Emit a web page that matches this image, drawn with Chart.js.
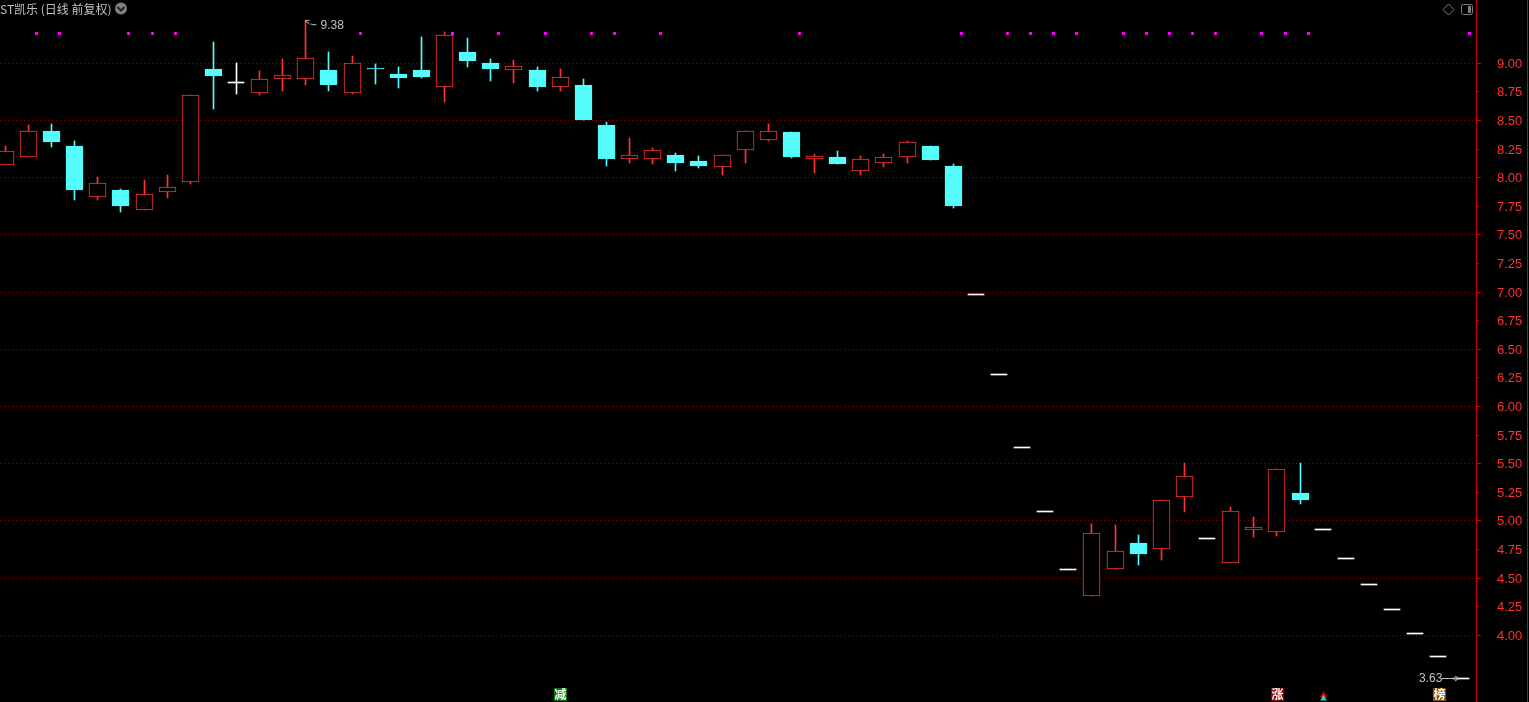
<!DOCTYPE html>
<html>
<head>
<meta charset="utf-8">
<title>ST凯乐 (日线 前复权)</title>
<script src="https://cdn.jsdelivr.net/npm/chart.js@4/dist/chart.umd.min.js"></script>
<style>
    html, body { margin: 0; padding: 0; background: #000; overflow: hidden; }
    canvas { display: block; }
</style>
</head>
<body>
<canvas id="klineChart" width="1529" height="702"></canvas>
<script>
const titleText = 'ST凯乐 (日线 前复权)';

const opens = [8.12, 8.19, 8.41, 8.28, 7.84, 7.89, 7.73, 7.88, 7.97, 8.95, 8.84, 8.75, 8.87, 8.87, 8.94, 8.75,
    8.96, 8.91, 8.94, 8.80, 9.10, 9.00, 8.95, 8.94, 8.80, 8.81, 8.46, 8.17, 8.17, 8.20, 8.15, 8.10,
    8.25, 8.34, 8.40, 8.17, 8.18, 8.07, 8.14, 8.19, 8.28, 8.10, 6.98, 6.28, 5.65, 5.09, 4.58, 4.35,
    4.59, 4.81, 4.76, 5.22, 4.85, 4.64, 4.93, 4.91, 5.24, 4.93, 4.68, 4.45, 4.23, 4.02, 3.82, 3.63];
const highs = [8.28, 8.46, 8.47, 8.32, 8.01, 7.90, 7.98, 8.02, 8.72, 9.19, 9.00, 8.93, 9.04, 9.38, 9.10, 9.06,
    8.99, 8.97, 9.23, 9.27, 9.22, 9.04, 9.03, 8.97, 8.95, 8.86, 8.49, 8.35, 8.26, 8.22, 8.19, 8.20,
    8.41, 8.47, 8.40, 8.21, 8.23, 8.19, 8.21, 8.32, 8.28, 8.12, 6.98, 6.28, 5.65, 5.09, 4.58, 4.97,
    4.96, 4.88, 5.18, 5.51, 4.85, 5.12, 5.03, 5.45, 5.51, 4.93, 4.68, 4.45, 4.23, 4.02, 3.82, 3.63];
const lows = [8.12, 8.19, 8.28, 7.81, 7.81, 7.71, 7.73, 7.83, 7.95, 8.61, 8.74, 8.73, 8.77, 8.82, 8.77, 8.74,
    8.83, 8.79, 8.88, 8.67, 8.98, 8.85, 8.84, 8.77, 8.77, 8.51, 8.11, 8.14, 8.13, 8.07, 8.09, 8.03,
    8.14, 8.33, 8.18, 8.05, 8.13, 8.03, 8.10, 8.14, 8.16, 7.74, 6.98, 6.28, 5.65, 5.09, 4.58, 4.35,
    4.59, 4.62, 4.67, 5.09, 4.85, 4.64, 4.87, 4.88, 5.16, 4.93, 4.68, 4.45, 4.23, 4.02, 3.82, 3.63];
const closes = [8.23, 8.41, 8.32, 7.90, 7.95, 7.76, 7.86, 7.92, 8.72, 8.90, 8.84, 8.86, 8.90, 9.05, 8.82, 9.00,
    8.955, 8.88, 8.89, 9.25, 9.03, 8.96, 8.98, 8.80, 8.88, 8.51, 8.17, 8.20, 8.24, 8.14, 8.11, 8.20,
    8.41, 8.41, 8.19, 8.19, 8.13, 8.16, 8.18, 8.31, 8.16, 7.76, 6.98, 6.28, 5.65, 5.09, 4.58, 4.89,
    4.74, 4.72, 5.18, 5.39, 4.85, 5.09, 4.95, 5.45, 5.19, 4.93, 4.68, 4.45, 4.23, 4.02, 3.82, 3.63];

const priceTicks = [9, 8.75, 8.5, 8.25, 8, 7.75, 7.5, 7.25, 7, 6.75, 6.5, 6.25, 6, 5.75, 5.5, 5.25, 5, 4.75, 4.5, 4.25, 4];

const signalDays = [1, 2, 5, 6, 7, 15, 19, 21, 23, 25, 26, 28, 34, 41, 43, 44, 45, 46, 48, 49, 50, 51, 52, 54, 55, 56, 63];
const signalLevel = 9.26;
const badgeDays = [24, 55, 62];
const badgeLabels = ['减', '涨', '榜'];
const badgeColors = ['#007a00', '#8a0000', '#8a4a00'];
const arrowDay = 57;
const highNoteDay = 13;
const lowNoteDay = 63;

const RED = '#ff3232';
const CYAN = '#54fcfc';
const WHITE = '#ffffff';
const GRAY = '#c0c0c0';
const AXIS_RED = '#c80000';

const days = opens.map((_, i) => i);
const isDoji = i => opens[i] === closes[i];
const candleColor = i => isDoji(i) ? WHITE : (closes[i] > opens[i] ? RED : CYAN);

// line the bars up on whole pixels, a bar fills every row from its top to its bottom value
const snapPlugin = {
    id: 'snap',
    afterDatasetsUpdate(chart) {
        chart.getSortedVisibleDatasetMetas().forEach(meta => {
            meta.data.forEach(el => {
                if (meta.type === 'bar') {
                    const odd = el.width % 2 === 1;
                    el.x = Math.floor(el.x) + (odd ? 0.5 : 0);
                    const top = Math.round(Math.min(el.y, el.base));
                    const bottom = Math.round(Math.max(el.y, el.base));
                    el.y = top;
                    el.base = bottom + 1;
                } else {
                    el.x = Math.floor(el.x) + 0.5;
                    el.y = Math.floor(el.y) + 0.5;
                }
            });
        });
    }
};

const overlayPlugin = {
    id: 'overlay',
    afterDraw(chart) {
        const ctx = chart.ctx;
        const xs = chart.scales.x;
        const ys = chart.scales.y;
        ctx.save();

        // title and toolbar icons
        ctx.fillStyle = GRAY;
        ctx.font = '12px "Noto Sans CJK SC"';
        ctx.textAlign = 'left';
        ctx.textBaseline = 'middle';
        ctx.fillText(titleText, 0, 9);

        ctx.fillStyle = '#808080';
        ctx.beginPath();
        ctx.arc(121, 8.5, 6, 0, Math.PI * 2);
        ctx.fill();
        ctx.strokeStyle = '#222222';
        ctx.lineWidth = 2;
        ctx.beginPath();
        ctx.moveTo(117.5, 7);
        ctx.lineTo(121, 10.5);
        ctx.lineTo(124.5, 7);
        ctx.stroke();

        ctx.strokeStyle = '#808080';
        ctx.lineWidth = 1;
        ctx.beginPath();
        ctx.moveTo(1448.5, 4);
        ctx.lineTo(1454, 9.5);
        ctx.lineTo(1448.5, 15);
        ctx.lineTo(1443, 9.5);
        ctx.closePath();
        ctx.stroke();
        ctx.beginPath();
        ctx.roundRect(1461.5, 4.5, 11, 10, 2);
        ctx.stroke();
        ctx.fillStyle = '#808080';
        ctx.fillRect(1468, 6, 3, 7);

        // second border at the far right of the window
        ctx.strokeStyle = AXIS_RED;
        ctx.beginPath();
        ctx.moveTo(1527.5, 0);
        ctx.lineTo(1527.5, 702);
        ctx.stroke();

        // high and low notes
        const hx = Math.floor(xs.getPixelForValue(highNoteDay)) + 0.5;
        const hy = Math.round(ys.getPixelForValue(highs[highNoteDay]));
        ctx.strokeStyle = GRAY;
        ctx.beginPath();
        ctx.moveTo(hx + 5, hy + 4);
        ctx.lineTo(hx + 11, hy + 5);
        ctx.moveTo(hx + 4, hy);
        ctx.lineTo(hx, hy + 1);
        ctx.lineTo(hx + 4, hy + 4);
        ctx.stroke();
        ctx.fillStyle = GRAY;
        ctx.font = '12px "Liberation Sans"';
        ctx.fillText(highs[highNoteDay].toFixed(2), hx + 15, hy + 6);

        const lx = Math.floor(xs.getPixelForValue(lowNoteDay));
        const ly = Math.round(ys.getPixelForValue(lows[lowNoteDay])) + 0.5;
        ctx.beginPath();
        ctx.moveTo(lx - 19, ly);
        ctx.lineTo(lx - 2, ly);
        ctx.moveTo(lx - 6, ly - 2.5);
        ctx.lineTo(lx - 2, ly);
        ctx.lineTo(lx - 6, ly + 2.5);
        ctx.stroke();
        ctx.fillText(lows[lowNoteDay].toFixed(2), lx - 42, ly);

        // event badges along the bottom
        ctx.font = 'bold 12px "Noto Sans CJK SC"';
        ctx.textAlign = 'center';
        badgeDays.forEach((day, i) => {
            const bx = Math.round(xs.getPixelForValue(day));
            ctx.fillStyle = badgeColors[i];
            ctx.fillRect(bx - 6, 688, 13, 13);
            ctx.fillStyle = WHITE;
            ctx.fillText(badgeLabels[i], bx + 0.5, 694.5);
        });
        ctx.restore();
    }
};

new Chart(document.getElementById('klineChart'), {
    data: {
        datasets: [
            {
                type: 'bar',
                order: 4,
                grouped: false,
                barThickness: 1,
                borderWidth: 0,
                data: days.filter(i => highs[i] !== lows[i]).map(i => ({ x: i, y: [lows[i], highs[i]] })),
                backgroundColor: days.filter(i => highs[i] !== lows[i]).map(candleColor)
            },
            {
                type: 'bar',
                order: 3,
                grouped: false,
                barThickness: 17,
                borderWidth: 1,
                borderSkipped: false,
                data: days.filter(i => !isDoji(i)).map(i => ({ x: i, y: [opens[i], closes[i]] })),
                borderColor: days.filter(i => !isDoji(i)).map(candleColor),
                backgroundColor: days.filter(i => !isDoji(i)).map(i => closes[i] > opens[i] ? '#000000' : CYAN)
            },
            {
                type: 'bar',
                order: 2,
                grouped: false,
                barThickness: 16,
                borderWidth: 0,
                data: days.filter(isDoji).map(i => ({ x: i, y: [opens[i], closes[i]] })),
                backgroundColor: WHITE
            },
            {
                type: 'scatter',
                order: 1,
                data: signalDays.map(i => ({ x: i + 0.35, y: signalLevel })),
                pointStyle: 'rect',
                pointRadius: 2.13,
                pointBorderWidth: 0,
                pointBackgroundColor: '#ff00ff'
            },
            {
                type: 'scatter',
                order: 0,
                data: [{ x: arrowDay, y: 3.447 }],
                pointStyle: 'triangle',
                pointRadius: 3.8,
                pointBorderWidth: 0,
                pointBackgroundColor: '#28c8f0'
            },
            {
                type: 'scatter',
                order: 1,
                data: [{ x: arrowDay, y: 3.478 }],
                pointStyle: 'triangle',
                pointRadius: 4.2,
                pointBorderWidth: 0,
                pointBackgroundColor: '#e60000'
            }
        ]
    },
    options: {
        responsive: false,
        animation: false,
        events: [],
        layout: { padding: 0, autoPadding: false },
        plugins: {
            legend: { display: false },
            title: { display: false },
            tooltip: { enabled: false }
        },
        scales: {
            x: {
                type: 'linear',
                display: false,
                offset: false,
                min: -0.229,
                max: 63.61,
                grid: { display: false }
            },
            y: {
                type: 'linear',
                position: 'right',
                min: 3.417,
                max: 9.553,
                afterBuildTicks(scale) {
                    scale.ticks = priceTicks.map(value => ({ value }));
                },
                afterFit(scale) {
                    scale.width = 53;
                    scale.paddingTop = 0;
                    scale.paddingBottom = 0;
                },
                border: { display: true, color: AXIS_RED, width: 1, dash: [1, 3] },
                grid: {
                    color: ctx => ctx.tick && ctx.tick.value % 0.5 === 0 ? '#8c0000' : 'rgba(0,0,0,0)',
                    tickColor: AXIS_RED,
                    tickLength: 5,
                    tickBorderDash: ctx => ctx.tick && ctx.tick.value % 0.5 === 0 ? [] : [2, 100]
                },
                ticks: {
                    color: RED,
                    autoSkip: false,
                    padding: 16,
                    labelOffset: 1,
                    font: { family: '"Liberation Sans"', size: 13 },
                    callback: value => value.toFixed(2)
                }
            }
        }
    },
    plugins: [snapPlugin, overlayPlugin]
});
</script>
</body>
</html>
